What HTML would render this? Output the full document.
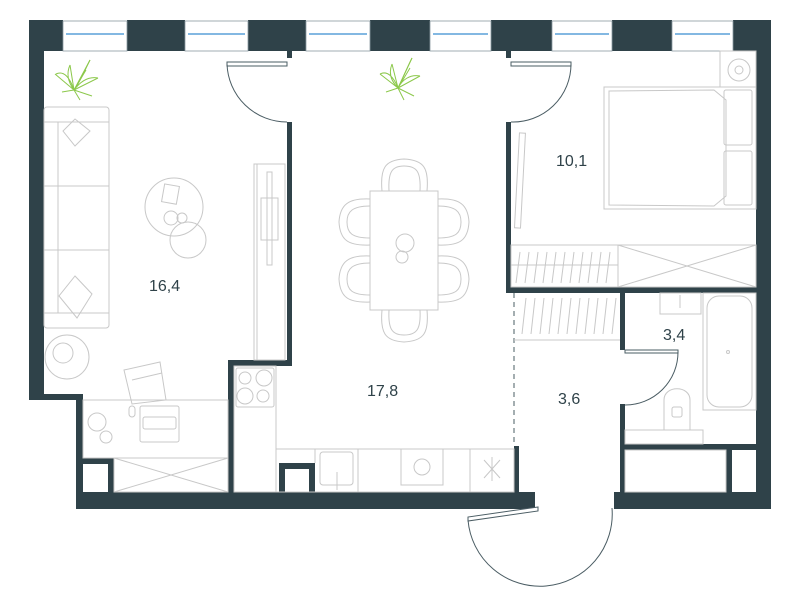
<!DOCTYPE html>
<html><head><meta charset="utf-8"><style>
html,body{margin:0;padding:0;background:#fff;}
svg{display:block;}
text{font-family:"Liberation Sans",sans-serif;font-size:16px;fill:#2f4249;}
</style></head><body>
<svg width="800" height="600" viewBox="0 0 800 600" xmlns="http://www.w3.org/2000/svg">
<g fill="#2f4249">
<!-- top pillars -->
<rect x="29" y="20" width="34" height="31"/>
<rect x="127" y="20" width="58" height="31"/>
<rect x="248" y="20" width="58" height="31"/>
<rect x="370" y="20" width="60" height="31"/>
<rect x="491" y="20" width="61" height="31"/>
<rect x="612" y="20" width="60" height="31"/>
<rect x="733" y="20" width="38" height="31"/>
<!-- left wall -->
<rect x="29" y="20" width="15" height="380"/>
<rect x="29" y="394" width="54" height="6"/>
<rect x="76" y="394" width="7" height="115"/>
<!-- bottom walls -->
<rect x="76" y="492" width="459" height="17"/>
<rect x="614" y="492" width="157" height="17"/>
<!-- right wall -->
<rect x="756" y="20" width="15" height="489"/>
<!-- small boxes -->
<rect x="83" y="458" width="31" height="6"/>
<rect x="108" y="458" width="6" height="34"/>
<rect x="279" y="463" width="36" height="6"/>
<rect x="279" y="463" width="6" height="29"/>
<rect x="309" y="463" width="6" height="29"/>
<!-- living/kitchen wall -->
<rect x="287" y="51" width="5" height="7"/>
<rect x="287" y="122" width="5" height="244"/>
<rect x="228" y="360" width="64" height="6"/>
<rect x="228" y="360" width="6" height="132"/>
<!-- bedroom wall -->
<rect x="506" y="51" width="5" height="7"/>
<rect x="506" y="122" width="5" height="171"/>
<rect x="506" y="287" width="250" height="6"/>
<!-- bathroom -->
<rect x="620" y="293" width="5" height="57"/>
<rect x="620" y="404" width="5" height="88"/>
<rect x="625" y="444" width="131" height="6"/>
<rect x="726" y="450" width="6" height="42"/>
<!-- corridor short wall -->
<rect x="514" y="446" width="5" height="46"/>
</g>
<!-- windows -->
<g fill="#fff" stroke="#8a9aa0" stroke-width="0.8">
<rect x="63" y="21" width="64" height="30"/><rect x="185" y="21" width="63" height="30"/><rect x="306" y="21" width="64" height="30"/>
<rect x="430" y="21" width="61" height="30"/><rect x="552" y="21" width="60" height="30"/><rect x="672" y="21" width="61" height="30"/>
</g>
<g stroke="#5aa0d8" stroke-width="1.5">
<line x1="66" y1="34" x2="124" y2="34"/><line x1="188" y1="34" x2="245" y2="34"/><line x1="309" y1="34" x2="367" y2="34"/>
<line x1="433" y1="34" x2="488" y2="34"/><line x1="555" y1="34" x2="609" y2="34"/><line x1="675" y1="34" x2="730" y2="34"/>
</g>
<!-- doors -->
<g fill="none" stroke="#4a5c63" stroke-width="1">
<rect x="227" y="62" width="60" height="4" fill="#fff"/>
<path d="M227 64 A60 60 0 0 0 287 122"/>
<rect x="511" y="62" width="60" height="4" fill="#fff"/>
<path d="M571 64 A58 58 0 0 1 511 122"/>
<rect x="625" y="350" width="53" height="3" fill="#fff"/>
<path d="M678 352 A53 53 0 0 1 625 405"/>
<path d="M538 507 L468 517 L468 521 L538 511 Z" fill="#fff"/>
<path d="M468 520 A72 72 0 0 0 612 508"/>
<line x1="514" y1="293" x2="514" y2="446" stroke-dasharray="5 4"/>
</g>
<!-- furniture -->
<g fill="none" stroke="#c8c8c8" stroke-width="1">
<!-- sofa -->
<rect x="44" y="107" width="65" height="221" rx="3"/>
<line x1="58" y1="122" x2="58" y2="313"/>
<line x1="44" y1="122" x2="109" y2="122"/>
<line x1="44" y1="186" x2="109" y2="186"/>
<line x1="44" y1="250" x2="109" y2="250"/>
<line x1="44" y1="313" x2="109" y2="313"/>
<path d="M75 119 L90 131 L75 146 L63 131 Z"/>
<path d="M75 276 L92 294 L77 318 L59 296 Z"/>
<!-- coffee tables -->
<circle cx="174" cy="207" r="29"/>
<circle cx="188" cy="240" r="18"/>
<circle cx="171" cy="218" r="7"/><circle cx="182" cy="218" r="5"/>
<rect x="163" y="185" width="15" height="18" transform="rotate(10 170 194)"/>
<circle cx="67" cy="357" r="22"/><circle cx="63" cy="353" r="10"/>
<!-- armchair -->
<path d="M124 370 L160 362 L166 400 L132 404 Z"/>
<path d="M132 380 L162 373"/>
<!-- desk -->
<rect x="83" y="400" width="145" height="58"/>
<circle cx="97" cy="422" r="9"/><circle cx="106" cy="437" r="6"/>
<rect x="140" y="406" width="39" height="36" rx="2"/>
<rect x="143" y="417" width="33" height="12" rx="2"/>
<rect x="129" y="406" width="6" height="11" rx="3"/>
<rect x="114" y="458" width="114" height="34"/>
<path d="M114 492 L228 458 M114 458 L228 492"/>
<!-- TV -->
<rect x="254" y="164" width="31" height="196"/>
<rect x="257" y="164" width="28" height="196"/>
<rect x="267" y="172" width="5" height="93"/>
<rect x="261" y="198" width="17" height="42"/>
<!-- dining -->
<rect x="370" y="191" width="68" height="119"/>
<circle cx="405" cy="243" r="9"/><circle cx="402" cy="257" r="6"/>
<path d="M382 191 C380 168 385 160 404 159 C424 160 429 168 427 191"/>
<path d="M389 191 C388 172 392 166 404 166 C417 166 421 172 420 191"/>
<path d="M382 310 C380 333 385 341 404 342 C424 341 429 333 427 310"/>
<path d="M389 310 C388 329 392 335 404 335 C417 335 421 329 420 310"/>
<path d="M370 199 C348 198 340 205 339 222 C340 240 348 246 370 245"/>
<path d="M370 206 C352 206 347 212 347 222 C347 233 352 238 370 238"/>
<path d="M370 256 C348 255 340 262 339 279 C340 297 348 303 370 302"/>
<path d="M370 263 C352 263 347 269 347 279 C347 290 352 295 370 295"/>
<path d="M438 199 C460 198 468 205 469 222 C468 240 460 246 438 245"/>
<path d="M438 206 C456 206 461 212 461 222 C461 233 456 238 438 238"/>
<path d="M438 256 C460 255 468 262 469 279 C468 297 460 303 438 302"/>
<path d="M438 263 C456 263 461 269 461 279 C461 290 456 295 438 295"/>
<!-- kitchen -->
<rect x="234" y="366" width="42" height="126"/>
<rect x="236" y="368" width="38" height="39" rx="2"/>
<circle cx="245" cy="378" r="6"/><circle cx="264" cy="378" r="8"/>
<circle cx="245" cy="396" r="8"/><circle cx="263" cy="396" r="6"/>
<rect x="276" y="449" width="238" height="43"/>
<line x1="315" y1="449" x2="315" y2="463"/>
<line x1="358" y1="449" x2="358" y2="492"/>
<line x1="470" y1="449" x2="470" y2="492"/>
<rect x="320" y="452" width="33" height="33" rx="3"/>
<line x1="337" y1="472" x2="337" y2="490"/>
<rect x="401" y="449" width="42" height="36"/>
<circle cx="422" cy="467" r="8"/>
<path d="M484 460 L500 478 M484 478 L500 460 M492 457 L492 481"/>
<!-- bedroom -->
<rect x="604" y="87" width="152" height="122"/>
<path d="M609 91 L714 90 L726 100 L726 196 L714 206 L609 205 Z"/>
<rect x="724" y="90" width="28" height="55" rx="2"/>
<rect x="724" y="151" width="28" height="54" rx="2"/>
<rect x="720" y="51" width="36" height="36"/>
<circle cx="739" cy="70" r="11"/><circle cx="739" cy="70" r="4"/>
<rect x="517" y="133" width="6" height="95" transform="rotate(3 520 180)"/>
<rect x="511" y="245" width="245" height="42"/>
<line x1="618" y1="245" x2="618" y2="287"/>
<path d="M618 245 L756 287 M618 287 L756 245"/>
<line x1="511" y1="265" x2="618" y2="265"/>
<path d="M520 252 L516 283 M529 252 L525 283 M538 252 L534 283 M547 252 L543 283 M556 252 L552 283 M565 252 L561 283 M574 252 L570 283 M583 252 L579 283 M592 252 L588 283 M601 252 L597 283 M610 252 L606 283"/>
<!-- corridor wardrobe -->
<line x1="514" y1="340" x2="620" y2="340"/>
<path d="M526 298 L522 334 M535 298 L531 334 M544 298 L540 334 M553 298 L549 334 M562 298 L558 334 M571 298 L567 334 M580 298 L576 334 M589 298 L585 334 M598 298 L594 334 M607 298 L603 334 M616 298 L612 334"/>
<!-- bathroom -->
<rect x="660" y="293" width="41" height="21"/>
<line x1="680" y1="295" x2="680" y2="308"/>
<rect x="703" y="293" width="53" height="117"/>
<rect x="707" y="296" width="45" height="111" rx="12"/>
<circle cx="728" cy="352" r="1.5"/>
<path d="M664 430 L664 400 C664 385 690 385 690 400 L690 430"/>
<rect x="672" y="407" width="10" height="10" rx="2"/>
<rect x="625" y="430" width="78" height="14"/>
<rect x="625" y="450" width="101" height="42"/>
</g>
<!-- plants -->
<g fill="none" stroke="#8cc84b" stroke-width="1">
<path d="M74 90 L55 74 M74 90 L70 65 M74 90 L90 60 M74 90 L98 78 M74 90 L92 96 M74 90 L80 100 M74 90 L62 92 M74 90 L86 70"/>
<path d="M56 74 C64 70 70 78 74 90 M70 65 C66 74 68 82 74 90 M90 60 C84 72 80 82 74 90 M98 78 C88 76 80 82 74 90"/>
<path d="M398 88 L380 74 M398 88 L392 64 M398 88 L412 58 M398 88 L420 76 M398 88 L414 96 M398 88 L404 100 M398 88 L386 92 M398 88 L410 68"/>
<path d="M380 74 C388 70 394 78 398 88 M392 64 C388 74 392 82 398 88 M412 58 C406 70 402 80 398 88 M420 76 C410 74 402 80 398 88"/>
</g>
<!-- labels -->
<text x="149" y="291">16,4</text>
<text x="556" y="166">10,1</text>
<text x="367" y="396">17,8</text>
<text x="558" y="404">3,6</text>
<text x="663" y="340">3,4</text>
</svg>
</body></html>
